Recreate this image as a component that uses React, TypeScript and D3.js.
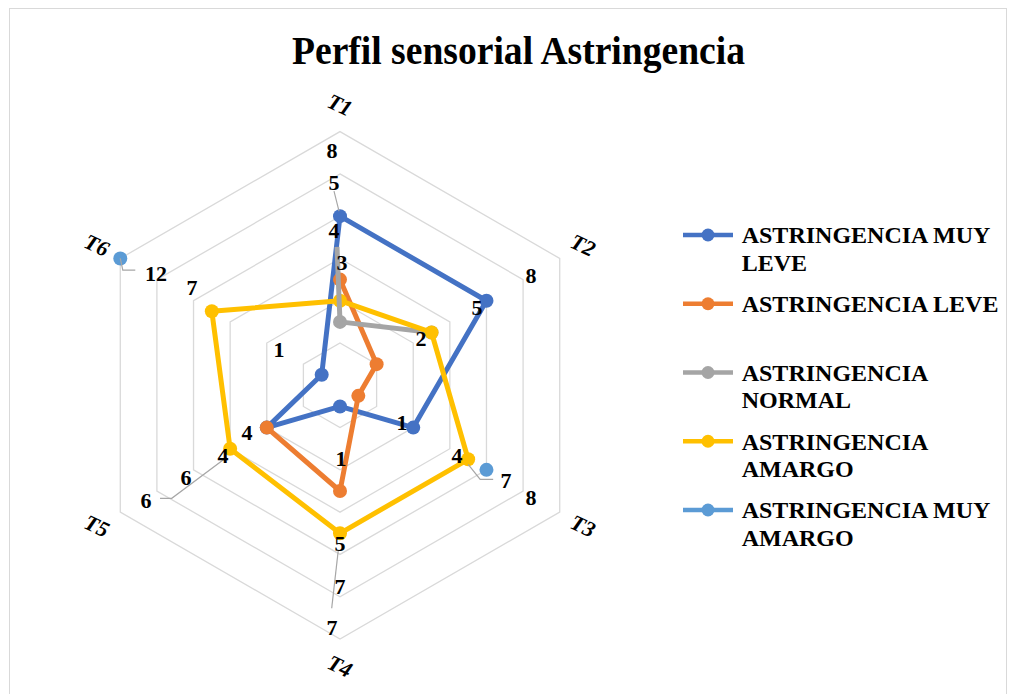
import React from 'react';
import * as d3 from 'd3';

// ---------- data ----------
const categories = ['T1', 'T2', 'T3', 'T4', 'T5', 'T6'];
const seriesNames = [
  'ASTRINGENCIA MUY LEVE',
  'ASTRINGENCIA LEVE',
  'ASTRINGENCIA NORMAL',
  'ASTRINGENCIA AMARGO',
  'ASTRINGENCIA MUY AMARGO',
];
const seriesColors = ['#4472C4', '#ED7D31', '#A5A5A5', '#FFC000', '#5B9BD5'];
const muyLeve: (number | null)[] = [8, 8, 4, 1, 4, 1];
const leve: (number | null)[] = [5, 2, 1, 5, 4, null];
const normal: (number | null)[] = [3, 5, null, null, null, null];
const amargo: (number | null)[] = [4, 5, 7, 7, 6, 7];
const muyAmargo: (number | null)[] = [null, null, 8, null, null, 12];
const seriesValues = [muyLeve, leve, normal, amargo, muyAmargo];
const radialTicks = [2, 4, 6, 8, 10, 12];

// data labels: series index, category index, text, offset from the point, optional leader
type Lbl = { s: number; a: number; t: string; dx: number; dy: number; leader?: [number, number][]; lw?: number };
const dataLabels: Lbl[] = [
  { s: 0, a: 0, t: '8', dx: -8, dy: -66 },
  { s: 0, a: 0, t: '5', dx: -6, dy: -34, leader: [[-6, -25], [-1, -5]] },
  { s: 2, a: 0, t: '4', dx: -6, dy: -92, leader: [[0, 0], [-3, -75]], lw: 5 },
  { s: 1, a: 0, t: '3', dx: 2, dy: -17 },
  { s: 0, a: 1, t: '8', dx: 44.5, dy: -25.7 },
  { s: 0, a: 1, t: '5', dx: -9.5, dy: 6.3 },
  { s: 3, a: 1, t: '2', dx: -10.5, dy: 5.6 },
  { s: 0, a: 2, t: '1', dx: -11.2, dy: -5.6 },
  { s: 3, a: 2, t: '4', dx: -11.2, dy: -4.3 },
  { s: 3, a: 2, t: '7', dx: 37.8, dy: 20.7, leader: [[0, 5], [12, 20], [25, 20]] },
  { s: 4, a: 2, t: '8', dx: 44.5, dy: 27 },
  { s: 0, a: 3, t: '1', dx: 1, dy: 51.6 },
  { s: 3, a: 3, t: '5', dx: 0, dy: 9.7 },
  { s: 3, a: 3, t: '7', dx: 0, dy: 52.7 },
  { s: 3, a: 3, t: '7', dx: -8, dy: 93.7, leader: [[-1.7, 16.7], [-8.3, 75]] },
  { s: 0, a: 4, t: '4', dx: -19.8, dy: 4.4 },
  { s: 3, a: 4, t: '4', dx: -7.1, dy: 6.3 },
  { s: 3, a: 4, t: '6', dx: -44.1, dy: 28.3 },
  { s: 3, a: 4, t: '6', dx: -84.1, dy: 51.3, leader: [[-3.4, 8.6], [-58.4, 49.6], [-70.1, 49.6]] },
  { s: 4, a: 5, t: '12', dx: 35.7, dy: 14.6, leader: [[0, 0], [2.5, 11.6], [15, 11.6]] },
  { s: 3, a: 5, t: '7', dx: -19.8, dy: -24.3 },
  { s: 0, a: 5, t: '1', dx: -42.7, dy: -25.7 },
];

const title = 'Perfil sensorial Astringencia';

// ---------- layout ----------
const W = 1014;
const H = 694;
const cx = 340;
const cy = 385.3;
const outerR = 253.7;
const FONT = "'Liberation Serif', 'Times New Roman', serif";

const r = d3.scaleLinear().domain([0, 12]).range([0, outerR]);
const angle = d3
  .scalePoint<string>()
  .domain(categories)
  .range([0, (2 * Math.PI * (categories.length - 1)) / categories.length]);

function pt(cat: string, v: number): [number, number] {
  const a = (angle(cat) as number) - Math.PI / 2;
  return [cx + r(v) * Math.cos(a), cy + r(v) * Math.sin(a)];
}

function wrap(s: string, max: number): string[] {
  const words = s.split(' ');
  const lines: string[] = [];
  let cur = '';
  for (const w of words) {
    const t = cur ? cur + ' ' + w : w;
    if (t.length > max && cur) {
      lines.push(cur);
      cur = w;
    } else cur = t;
  }
  if (cur) lines.push(cur);
  return lines;
}

export default function App() {
  const ringPath = (v: number) =>
    d3.line()(categories.map((c) => pt(c, v)))! + 'Z';

  const lineGen = d3
    .line<[string, number | null]>()
    .defined((d) => d[1] !== null)
    .x((d) => pt(d[0], d[1] as number)[0])
    .y((d) => pt(d[0], d[1] as number)[1]);

  const seriesPaths = seriesValues.map((vals) => {
    const closed: [string, number | null][] = categories.map((c, i) => [c, vals[i]]);
    closed.push([categories[0], vals[0]]);
    return lineGen(closed);
  });

  const legendX = 683;
  const legendY0 = 235;
  const legendStep = 68.75;

  return (
    <div style={{ position: 'absolute', left: 0, top: 0 }}>
      <svg width={W} height={H} style={{ display: 'block', background: '#fff' }}>
        <rect x={9.5} y={8.5} width={997} height={720} fill="#fff" stroke="#d9d9d9" strokeWidth={1} />
        <text
          x={518.5}
          y={64}
          textAnchor="middle"
          fontFamily={FONT}
          fontWeight="bold"
          fontSize={39}
          textLength={453}
          lengthAdjust="spacingAndGlyphs"
          fill="#000"
        >
          {title}
        </text>

        {/* grid */}
        <g>
          {radialTicks.map((v) => (
            <path key={v} d={ringPath(v)} fill="none" stroke="#d9d9d9" strokeWidth={1.3} />
          ))}
        </g>

        {/* category labels */}
        {categories.map((c) => {
          const a = (angle(c) as number) - Math.PI / 2;
          const rr = outerR + 27;
          const x = cx + rr * Math.cos(a);
          const y = cy + rr * Math.sin(a);
          return (
            <text
              key={c}
              transform={`translate(${x},${y}) rotate(25)`}
              textAnchor="middle"
              dy="0.35em"
              fontFamily={FONT}
              fontWeight="bold"
              fontStyle="italic"
              fontSize={22}
              fill="#000"
            >
              {c}
            </text>
          );
        })}

        {/* series */}
        {seriesValues.map((vals, si) => (
          <g key={si}>
            {seriesPaths[si] && (
              <path
                d={seriesPaths[si] as string}
                fill="none"
                stroke={seriesColors[si]}
                strokeWidth={5}
                strokeLinejoin="round"
              />
            )}
            {vals.map((v, i) => {
              if (v === null) return null;
              const [x, y] = pt(categories[i], v);
              return <circle key={i} cx={x} cy={y} r={7} fill={seriesColors[si]} />;
            })}
          </g>
        ))}

        {/* leader lines */}
        {dataLabels.map((l, i) => {
          if (!l.leader) return null;
          const v = seriesValues[l.s][l.a] as number;
          const [x, y] = pt(categories[l.a], v);
          const d = d3.line()(l.leader.map(([dx, dy]) => [x + dx, y + dy]))!;
          return (
            <path
              key={i}
              d={d}
              fill="none"
              stroke={l.lw ? '#A5A5A5' : '#a6a6a6'}
              strokeWidth={l.lw || 1.2}
            />
          );
        })}

        {/* data labels */}
        {dataLabels.map((l, i) => {
          const v = seriesValues[l.s][l.a] as number;
          const [x, y] = pt(categories[l.a], v);
          return (
            <text
              key={i}
              x={x + l.dx}
              y={y + l.dy}
              dy="0.35em"
              textAnchor="middle"
              fontFamily={FONT}
              fontWeight="bold"
              fontSize={22}
              fill="#000"
            >
              {l.t}
            </text>
          );
        })}

        {/* legend */}
        {seriesNames.map((name, i) => {
          const y = legendY0 + i * legendStep;
          const lines = wrap(name, 17);
          return (
            <g key={name}>
              <line x1={legendX} x2={legendX + 50} y1={y} y2={y} stroke={seriesColors[i]} strokeWidth={4.5} />
              <circle cx={legendX + 25} cy={y} r={6.5} fill={seriesColors[i]} />
              <text fontFamily={FONT} fontWeight="bold" fontSize={24} fill="#000">
                {lines.map((ln, j) => (
                  <tspan key={j} x={741.7} y={y + 8.3 + j * 27.4}>
                    {ln}
                  </tspan>
                ))}
              </text>
            </g>
          );
        })}
      </svg>
    </div>
  );
}
